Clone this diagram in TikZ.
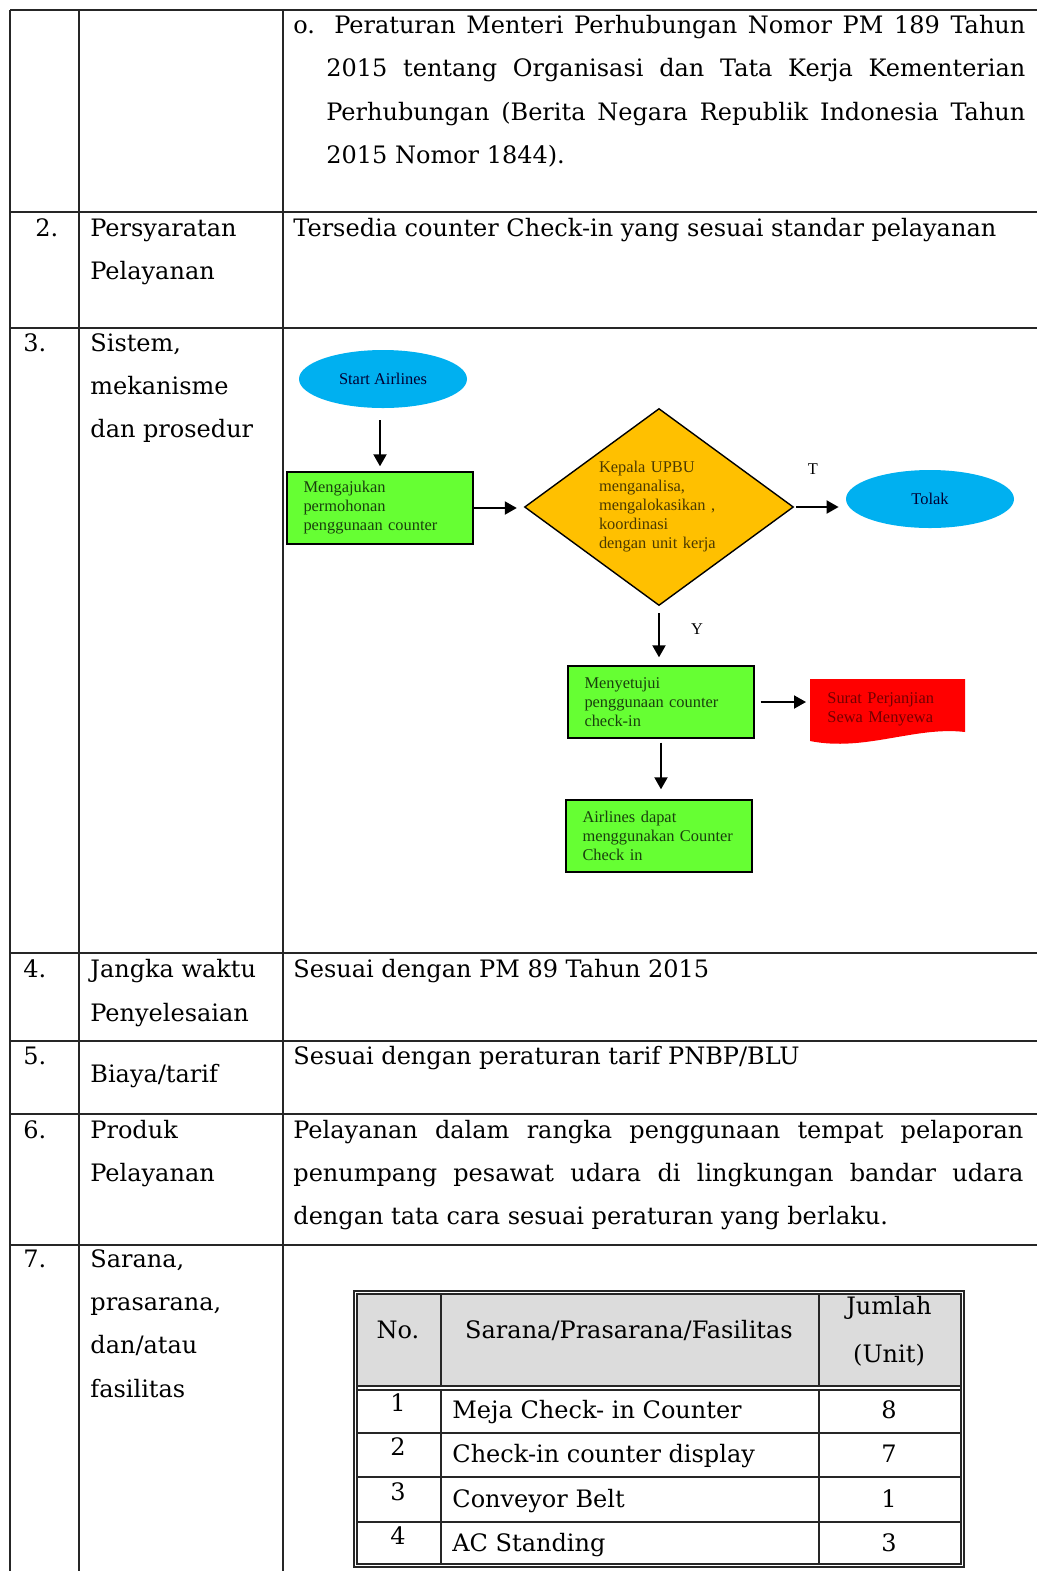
\documentclass[tikz,border=0pt]{standalone}
\usepackage{fontspec}
\setmainfont{DejaVu Serif}
\newfontfamily\flowfont{Liberation Serif}
\usepackage{tikz}
\usetikzlibrary{calc}
\usetikzlibrary{arrows.meta,positioning,shapes.geometric}
\definecolor{startblue}{RGB}{0,176,240}
\definecolor{procgreen}{RGB}{102,255,51}
\definecolor{decorange}{RGB}{255,192,0}
\definecolor{docred}{RGB}{255,0,0}
\definecolor{headgray}{RGB}{220,220,220}
\newcommand{\bodyfont}{\fontsize{12}{21.5}\selectfont}
\newcommand{\flowtext}{\fontsize{8.2}{9.5}\selectfont\flowfont}

\begin{document}
\begin{tikzpicture}[x=0.5pt,y=-0.5pt,>=Stealth, every node/.style={inner sep=0pt}]
    \tikzset{rule/.style={line width=1.1pt,black!85}}
    \tikzset{cell/.style={anchor=base west,font=\bodyfont}}
    \tikzset{mid/.style={anchor=base,font=\bodyfont}}
    \tikzset{terminal/.style={ellipse,fill=startblue,minimum width=84pt,minimum height=29pt,font=\flowtext,text=blue!20!black}}
    \tikzset{process/.style={draw,line width=0.7pt,fill=procgreen,minimum width=93pt,minimum height=36pt,text width=76.5pt,inner xsep=8.25pt,align=left,font=\flowtext,text=procgreen!25!black}}
    \tikzset{decision/.style={diamond,draw,line width=0.7pt,fill=decorange,minimum width=134.5pt,minimum height=98.5pt,aspect=1.37,text width=60pt,align=left,font=\flowtext,text=decorange!30!black}}
    \tikzset{flowarrow/.style={-{Triangle[length=6pt,width=6.5pt]},line width=1pt}}
    \useasboundingbox (0,0) rectangle (1037,1571);
    \fill[white] (0,0) rectangle (1037,1571);

    % outer table
    \draw[rule] (10,10) -- (1037,10);
    \draw[rule] (10,212) -- (1037,212);
    \draw[rule] (10,328) -- (1037,328);
    \draw[rule] (10,953) -- (1037,953);
    \draw[rule] (10,1041) -- (1037,1041);
    \draw[rule] (10,1114) -- (1037,1114);
    \draw[rule] (10,1245) -- (1037,1245);
    \draw[rule] (10,10) -- (10,1571);
    \draw[rule] (79,10) -- (79,1571);
    \draw[rule] (283,10) -- (283,1571);

    % row 1 (continued list)
    \node[cell] (dasarA) at (293,33) {\makebox[366pt][s]{o. Peraturan Menteri Perhubungan Nomor PM 189 Tahun}};
    \node[cell] (dasarB) at (326,76) {\makebox[349.5pt][s]{2015 tentang Organisasi dan Tata Kerja Kementerian}};
    \node[cell] (dasarC) at (326,120) {\makebox[349.5pt][s]{Perhubungan (Berita Negara Republik Indonesia Tahun}};
    \node[cell] (dasarD) at (326,163) {2015 Nomor 1844).};

    % row 2
    \node[cell] (numB) at (35,236) {2.};
    \node[cell] (syaratA) at (90,236) {Persyaratan};
    \node[cell] (syaratB) at (90,279) {Pelayanan};
    \node[cell] (syaratText) at (293,236) {Tersedia counter Check-in yang sesuai standar pelayanan};

    % row 3
    \node[cell] (numC) at (23,351) {3.};
    \node[cell] (sistemA) at (90,351) {Sistem,};
    \node[cell] (sistemB) at (90,394) {mekanisme};
    \node[cell] (sistemC) at (90,437) {dan prosedur};

    % flowchart
    \node[terminal] (start) at (383,379) {Start Airlines};
    \node[process] (ajukan) at (380,508) {Mengajukan\\permohonan\\penggunaan counter};
    \node[decision] (kepala) at (659,507) {Kepala UPBU\\menganalisa,\\mengalokasikan ,\\koordinasi\\dengan unit kerja};
    \node[terminal] (tolak) at (930,499) {Tolak};
    \node[process] (setuju) at (661,702) {Menyetujui\\penggunaan counter\\check-in};
    \node[process] (pakai) at (659,836) {Airlines dapat\\menggunakan Counter\\Check in};

    \coordinate (suratnw) at (810,679);
    \fill[docred] (suratnw) -- (965,679) -- (965,732) .. controls (915,726) and (865,752) .. (810,741) -- cycle;
    \node[anchor=west,text width=70pt,align=left,font=\flowtext,text=docred!45!black] (surat) at (827,709) {Surat Perjanjian\\Sewa Menyewa};

    \node[font=\flowtext] (labelT) at (813,469) {T};
    \node[font=\flowtext] (labelY) at (697,629) {Y};

    \draw[flowarrow,shorten <=6pt,shorten >=2.5pt] (start.south -| ajukan.north) -- (ajukan.north);
    \draw[flowarrow,shorten >=3.5pt] (ajukan.east) -- (ajukan.east -| kepala.west);
    \draw[flowarrow,shorten <=1pt,shorten >=3.5pt] (kepala.east) -- (kepala.east -| tolak.west);
    \draw[flowarrow,shorten <=3.5pt,shorten >=4pt] (kepala.south) -- (kepala.south |- setuju.north);
    \draw[flowarrow,shorten <=3pt,shorten >=2pt] (setuju.east) -- (setuju.east -| suratnw);
    \draw[flowarrow,shorten <=2pt,shorten >=5pt] (setuju.south) -- (setuju.south |- pakai.north);

    % row 4
    \node[cell] (numD) at (23,977) {4.};
    \node[cell] (waktuA) at (90,977) {Jangka waktu};
    \node[cell] (waktuB) at (90,1021) {Penyelesaian};
    \node[cell] (waktuText) at (293,977) {Sesuai dengan PM 89 Tahun 2015};

    % row 5
    \node[cell] (numE) at (23,1064) {5.};
    \node[cell] (biaya) at (90,1082) {Biaya/tarif};
    \node[cell] (biayaText) at (293,1064) {Sesuai dengan peraturan tarif PNBP/BLU};

    % row 6
    \node[cell] (numF) at (23,1138) {6.};
    \node[cell] (produkA) at (90,1138) {Produk};
    \node[cell] (produkB) at (90,1181) {Pelayanan};
    \node[cell] (produkTextA) at (293,1138) {\makebox[365pt][s]{Pelayanan dalam rangka penggunaan tempat pelaporan}};
    \node[cell] (produkTextB) at (293,1181) {\makebox[365pt][s]{penumpang pesawat udara di lingkungan bandar udara}};
    \node[cell] (produkTextC) at (293,1224) {dengan tata cara sesuai peraturan yang berlaku.};

    % row 7
    \node[cell] (numG) at (23,1267) {7.};
    \node[cell] (saranaA) at (90,1267) {Sarana,};
    \node[cell] (saranaB) at (90,1310) {prasarana,};
    \node[cell] (saranaC) at (90,1353) {dan/atau};
    \node[cell] (saranaD) at (90,1397) {fasilitas};

    % facilities table
    \fill[headgray] (357,1294) rectangle (961,1386);
    \draw[line width=1.2pt,black!85] (354,1291) rectangle (964,1567);
    \draw[line width=0.6pt,black!85] (357,1294) rectangle (961,1564);
    \draw[line width=0.6pt,black!85] (357,1386) -- (961,1386);
    \draw[line width=0.6pt,black!85] (357,1390) -- (961,1390);
    \draw[line width=1.1pt,black!85] (441,1294) -- (441,1386);
    \draw[line width=1.1pt,black!85] (819,1294) -- (819,1386);
    \draw[line width=0.6pt,black!85] (441,1390) -- (441,1564);
    \draw[line width=0.6pt,black!85] (819,1390) -- (819,1564);
    \draw[line width=0.6pt,black!85] (357,1433) -- (961,1433);
    \draw[line width=0.6pt,black!85] (357,1477) -- (961,1477);
    \draw[line width=0.6pt,black!85] (357,1522) -- (961,1522);

    \node[mid] (headNo) at (398,1338) {No.};
    \node[mid] (headSarana) at (629,1338) {Sarana/Prasarana/Fasilitas};
    \node[mid] (headJumlahA) at (889,1314) {Jumlah};
    \node[mid] (headJumlahB) at (889,1362) {(Unit)};

    \node[mid] (noA) at (398,1411) {1};
    \node[cell] (itemA) at (452,1418) {Meja Check- in Counter};
    \node[mid] (qtyA) at (889,1418) {8};
    \node[mid] (noB) at (398,1455) {2};
    \node[cell] (itemB) at (452,1462) {Check-in counter display};
    \node[mid] (qtyB) at (889,1462) {7};
    \node[mid] (noC) at (398,1500) {3};
    \node[cell] (itemC) at (452,1507) {Conveyor Belt};
    \node[mid] (qtyC) at (889,1507) {1};
    \node[mid] (noD) at (398,1544) {4};
    \node[cell] (itemD) at (452,1551) {AC Standing};
    \node[mid] (qtyD) at (889,1551) {3};
  \end{tikzpicture}
\end{document}
